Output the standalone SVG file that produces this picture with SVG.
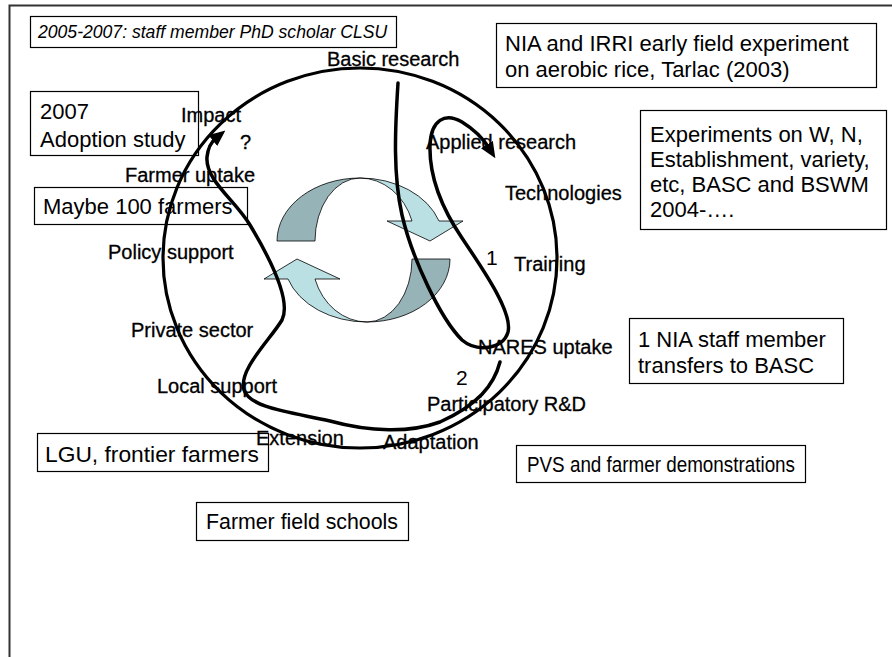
<svg xmlns="http://www.w3.org/2000/svg" width="892" height="657" viewBox="0 0 892 657">
<style>
text{font-family:"Liberation Sans",Arial,sans-serif;fill:#000}
.lbl{font-size:20px;stroke:#000;stroke-width:0.3}
.num{font-size:21px}
.bt{font-size:22px}
.it{font-size:17.6px;font-style:italic}
.box{fill:#fff;stroke:#000;stroke-width:1.2}
.ln{fill:none;stroke:#000;stroke-width:3.5;stroke-linecap:round;stroke-linejoin:round}
.dark{fill:#96b3b8;stroke:#000;stroke-width:0.8}
.light{fill:#bae0e4;stroke:#000;stroke-width:0.8}
</style>
<defs>
<marker id="ah" markerUnits="userSpaceOnUse" markerWidth="16" markerHeight="14" viewBox="0 0 16 14" refX="4" refY="7" orient="auto">
<path d="M0,0 L16,7 L0,14 Z" fill="#000"/>
</marker>
</defs>
<rect width="892" height="657" fill="#fff"/>
<path d="M9.5,657 V5.5 H892" fill="none" stroke="#333" stroke-width="2"/>

<g id="box-phd"><rect class="box" x="30.5" y="16.5" width="366" height="31"/><text class="it" x="38" y="38">2005-2007: staff member PhD scholar CLSU</text></g>
<g id="box-nia"><rect class="box" x="496.5" y="23.5" width="380" height="64"/><text class="bt" x="505" y="51">NIA and IRRI early field experiment</text><text class="bt" x="505" y="77">on aerobic rice, Tarlac (2003)</text></g>
<g id="box-adoption"><rect class="box" x="30.5" y="91.5" width="168" height="64"/><text class="bt" x="40" y="119">2007</text><text class="bt" x="40" y="147">Adoption study</text></g>
<g id="box-experiments"><rect class="box" x="640.5" y="110.5" width="246" height="119"/><text class="bt" x="650" y="142">Experiments on W, N,</text><text class="bt" x="650" y="167">Establishment, variety,</text><text class="bt" x="650" y="192">etc, BASC and BSWM</text><text class="bt" x="650" y="217">2004-….</text></g>
<g id="box-maybe"><rect class="box" x="34.5" y="187.5" width="213" height="37"/><text class="bt" x="43" y="214">Maybe 100 farmers</text></g>
<g id="box-nia-staff"><rect class="box" x="629.5" y="318.5" width="214" height="65"/><text class="bt" x="638" y="347">1 NIA staff member</text><text class="bt" x="638" y="373">transfers to BASC</text></g>
<g id="box-lgu"><rect class="box" x="37.5" y="433.5" width="231" height="38"/><text class="bt" x="45" y="462" textLength="214" lengthAdjust="spacingAndGlyphs">LGU, frontier farmers</text></g>
<g id="box-pvs"><rect class="box" x="516.5" y="445.5" width="289" height="37"/><text class="bt" x="527" y="472" textLength="268" lengthAdjust="spacingAndGlyphs">PVS and farmer demonstrations</text></g>
<g id="box-ffs"><rect class="box" x="196.5" y="502.5" width="212" height="38"/><text class="bt" x="206" y="529" textLength="192" lengthAdjust="spacingAndGlyphs">Farmer field schools</text></g>

<g id="cycle-arrows">
<g id="arrow-top">
<path class="dark" d="M277,241 A83,63 0 0 1 360,178 A45,63 0 0 0 315,241 Z"/>
<path class="light" d="M360,178 A83,63 0 0 1 439,221 L463,221 L430,241 L387,221 L412,221 A55,63 0 0 0 360,178 Z"/>
</g>
<g id="arrow-bottom" transform="rotate(180 363.5 250)">
<path class="dark" d="M277,241 A83,63 0 0 1 360,178 A45,63 0 0 0 315,241 Z"/>
<path class="light" d="M360,178 A83,63 0 0 1 439,221 L463,221 L430,241 L387,221 L412,221 A55,63 0 0 0 360,178 Z"/>
</g>
</g>

<g id="lbl-basic"><text class="lbl" x="327" y="66">Basic research</text></g>
<g id="lbl-impact"><text class="lbl" x="181" y="122">Impact</text></g>
<g id="lbl-q"><text class="lbl" x="240" y="149">?</text></g>
<g id="lbl-applied"><text class="lbl" x="426" y="149">Applied research</text></g>
<g id="lbl-farmer-uptake"><text class="lbl" x="125" y="182">Farmer uptake</text></g>
<g id="lbl-tech"><text class="lbl" x="505" y="200">Technologies</text></g>
<g id="lbl-policy"><text class="lbl" x="108" y="259">Policy support</text></g>
<g id="lbl-1"><text class="num" x="486" y="265">1</text></g>
<g id="lbl-training"><text class="lbl" x="514" y="271">Training</text></g>
<g id="lbl-private"><text class="lbl" x="131" y="337">Private sector</text></g>
<g id="lbl-nares"><text class="lbl" x="478" y="354">NARES uptake</text></g>
<g id="lbl-2"><text class="num" x="456" y="385">2</text></g>
<g id="lbl-local"><text class="lbl" x="157" y="393">Local support</text></g>
<g id="lbl-prd"><text class="lbl" x="427" y="411">Participatory R&amp;D</text></g>
<g id="lbl-extension"><text class="lbl" x="256" y="445">Extension</text></g>
<g id="lbl-adaptation"><text class="lbl" x="383" y="449">Adaptation</text></g>

<g id="connectors">
<ellipse cx="360" cy="258" rx="197" ry="190" fill="none" stroke="#000" stroke-width="3.2"/>
<path class="ln" marker-end="url(#ah)" d="M398,83 C395,130 393,175 402,215 C412,258 440,318 462,340 C476,352 503,350 508,332 C513,312 482,268 462,238 C443,210 429,178 430,145 C431,120 445,112 462,122 C475,130 484,140 489,148"/>
<path class="ln" marker-end="url(#ah)" d="M500,362 C494,385 478,405 440,422 C410,433 370,432 330,421 C290,412 250,408 244,390 C238,370 270,340 282,320 C292,300 268,255 250,225 C235,200 205,180 207,157 C208,148 211,142 216,138"/>
</g>
</svg>
